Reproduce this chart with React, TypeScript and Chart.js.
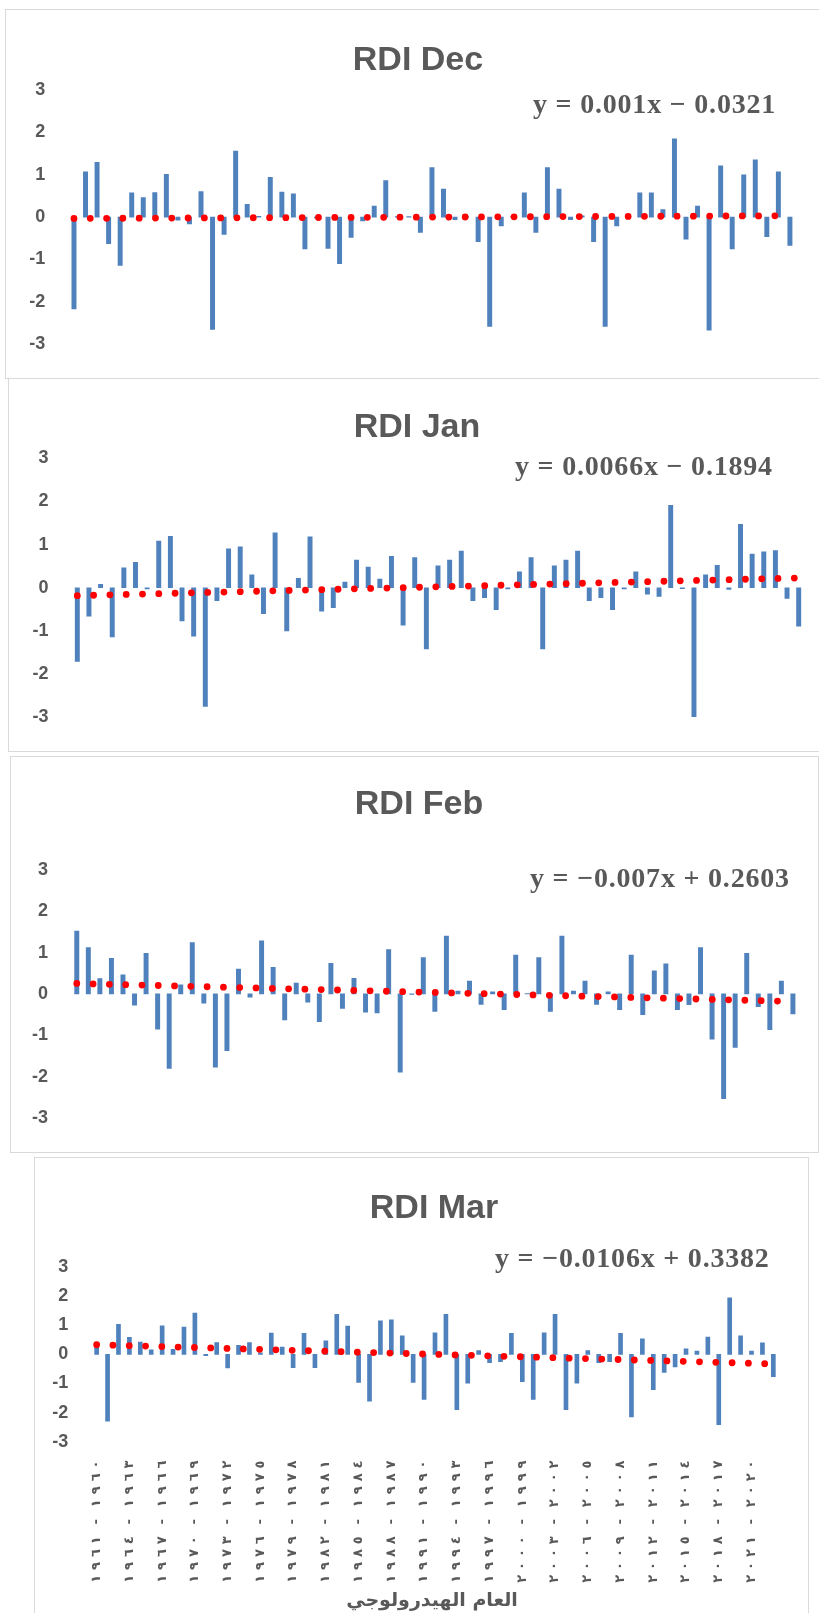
import React, { useEffect, useRef } from 'react';
import { Chart, registerables } from 'chart.js';
Chart.register(...registerables);

// ---------- data ----------
const firstYear = 1960;
const seasonCount = 63;
const arabicDigits = '٠١٢٣٤٥٦٧٨٩';
const toArabic = (n: number) => String(n).replace(/\d/g, (d) => arabicDigits[+d]);
const seasonLabels: string[] = Array.from({ length: seasonCount }, (_, i) =>
  `${toArabic(firstYear + i)} - ${toArabic(firstYear + i + 1)}`
);
const labelEvery = 3;

const rdiDec = [-2.17, 1.07, 1.29, -0.63, -1.14, 0.57, 0.46, 0.58, 1.01, -0.07, -0.16, 0.60, -2.65, -0.41, 1.56, 0.30, 0.02, 0.94, 0.59, 0.55, -0.75, -0.02, -0.74, -1.10, -0.48, -0.09, 0.26, 0.86, 0.01, 0.01, -0.36, 1.17, 0.66, -0.06, 0.01, -0.58, -2.58, -0.21, 0.01, 0.57, -0.36, 1.17, 0.66, -0.06, 0.03, -0.58, -2.58, -0.21, 0.01, 0.57, 0.57, 0.18, 1.85, -0.52, 0.26, -2.67, 1.21, -0.75, 1.00, 1.35, -0.46, 1.07, -0.67];
const rdiJan = [-1.71, -0.66, 0.08, -1.14, 0.46, 0.59, -0.03, 1.08, 1.19, -0.77, -1.12, -2.75, -0.30, 0.90, 0.95, 0.30, -0.60, 1.27, -1.00, 0.22, 1.18, -0.54, -0.46, 0.13, 0.64, 0.48, 0.20, 0.73, -0.87, 0.70, -1.42, 0.51, 0.64, 0.85, -0.30, -0.23, -0.51, -0.03, 0.37, 0.70, -1.42, 0.51, 0.64, 0.85, -0.30, -0.23, -0.51, -0.03, 0.37, -0.15, -0.20, 1.91, -0.02, -2.99, 0.30, 0.52, -0.04, 1.47, 0.78, 0.83, 0.86, -0.25, -0.89];
const rdiFeb = [1.52, 1.12, 0.37, 0.86, 0.46, -0.27, 0.98, -0.85, -1.80, 0.22, 1.24, -0.22, -1.77, -1.37, 0.60, -0.08, 1.28, 0.64, -0.63, 0.26, -0.20, -0.67, 0.74, -0.35, 0.38, -0.44, -0.46, 1.07, -1.89, -0.01, 0.88, -0.42, 1.40, 0.07, 0.31, -0.25, 0.05, -0.38, 0.94, 0.01, 0.88, -0.42, 1.40, 0.07, 0.31, -0.25, 0.05, -0.38, 0.94, -0.50, 0.56, 0.73, -0.38, -0.26, 1.12, -1.09, -2.53, -1.29, 0.98, -0.31, -0.86, 0.31, -0.48];
const rdiMar = [0.30, -2.29, 1.03, 0.58, 0.42, 0.15, 0.98, 0.17, 0.93, 1.41, -0.05, 0.40, -0.47, 0.31, 0.40, 0.05, 0.73, 0.25, -0.46, 0.72, -0.46, 0.46, 1.37, 0.97, -0.96, -1.61, 1.15, 1.18, 0.63, -0.96, -1.55, 0.74, 1.37, -1.90, -0.99, 0.13, -0.29, -0.25, 0.72, -0.94, -1.55, 0.74, 1.37, -1.90, -0.99, 0.13, -0.29, -0.25, 0.72, -2.15, 0.53, -1.21, -0.62, -0.43, 0.19, 0.11, 0.59, -2.41, 1.94, 0.63, 0.11, 0.39, -0.77];

// trendline end values (first and last season)
const trendStart = [-0.031, -0.183, 0.253, 0.328];
const trendEnd = [0.031, 0.227, -0.181, -0.330];

const panelTitles = ['RDI Dec', 'RDI Jan', 'RDI Feb', 'RDI Mar'];
const equations = ['y = 0.001x − 0.0321', 'y = 0.0066x − 0.1894', 'y = −0.007x + 0.2603', 'y = −0.0106x + 0.3382'];
const xAxisTitle = 'العام الهيدرولوجي';
const yTicksMin = -3;
const yTicksMax = 3;

const series = [rdiDec, rdiJan, rdiFeb, rdiMar];

// ---------- layout (page coordinates) ----------
type Box = { left: number; top: number; width: number; height: number };
type Area = { left: number; right: number; top: number; bottom: number };
interface PanelCfg {
  box: Box;
  canvas: Box;
  area: Area;
  titlePos: [number, number];
  eqPos: [number, number];
  barThickness: number;
  showX: boolean;
}

const panels: PanelCfg[] = [
  { box: { left: 5, top: 9, width: 830, height: 370 }, canvas: { left: 5, top: 9, width: 814, height: 369 }, area: { left: 68.2, right: 795.7, top: 90, bottom: 362.7 }, titlePos: [418, 61], eqPos: [533, 106], barThickness: 4.3, showX: false },
  { box: { left: 8, top: 378, width: 830, height: 374 }, canvas: { left: 8, top: 378, width: 811, height: 373 }, area: { left: 71.5, right: 804.5, top: 458.3, bottom: 735 }, titlePos: [417, 428], eqPos: [515, 468], barThickness: 4.3, showX: false },
  { box: { left: 10, top: 756, width: 809, height: 397 }, canvas: { left: 10, top: 756, width: 808, height: 396 }, area: { left: 71.0, right: 798.7, top: 869.7, bottom: 1126.3 }, titlePos: [419, 805], eqPos: [530, 880], barThickness: 4.3, showX: false },
  { box: { left: 34, top: 1157, width: 775, height: 470 }, canvas: { left: 34, top: 1157, width: 774, height: 456 }, area: { left: 91.2, right: 778.8, top: 1266.8, bottom: 1441.8 }, titlePos: [434, 1209], eqPos: [495, 1260], barThickness: 4, showX: true },
];
const xLabelFirstCenterPage = 1464.5;
const xLabelDigitStep = 12.9;
const xLabelDashStep = 18.5;
const xTitlePos: [number, number] = [432, 1601];

const GRAY = '#595959';
const BLUE = '#4F81BD';
const RED = '#FF0000';

type TextItem = { text: string; x: number; y: number; font: string; align: CanvasTextAlign; spacing?: string };

// visual (left-to-right) order of an RTL-displayed season label: "end - start"
function visualChars(label: string): string[] {
  const parts = label.split(' - ');
  return [...parts[1], '-', ...parts[0]];
}

function makeTextPlugin(items: TextItem[], xLabelTop: number | null) {
  return {
    id: 'panelTexts',
    afterDraw(chart: any) {
      const ctx = chart.ctx as any;
      for (const t of items) {
        ctx.save();
        ctx.font = t.font;
        ctx.fillStyle = GRAY;
        ctx.textAlign = t.align;
        ctx.textBaseline = 'middle';
        if (t.spacing) ctx.letterSpacing = t.spacing;
        ctx.fillText(t.text, t.x, t.y);
        ctx.restore();
      }
      if (xLabelTop !== null) {
        const xs = chart.scales.x;
        ctx.save();
        ctx.font = 'bold 13px "DejaVu Sans", sans-serif';
        ctx.fillStyle = GRAY;
        ctx.textAlign = 'center';
        ctx.textBaseline = 'middle';
        seasonLabels.forEach((lab, i) => {
          if (i % labelEvery !== 0) return;
          const px = xs.getPixelForValue(i);
          const chars = visualChars(lab).reverse(); // from top to bottom
          ctx.save();
          ctx.translate(px, xLabelTop);
          ctx.rotate(-Math.PI / 2);
          let d = 0;
          chars.forEach((ch, k) => {
            if (k > 0) {
              const prevDash = chars[k - 1] === '-';
              d += ch === '-' || prevDash ? xLabelDashStep : xLabelDigitStep;
            }
            ctx.fillText(ch, -d, 0);
          });
          ctx.restore();
        });
        ctx.restore();
      }
    },
  };
}

function Panel({ idx }: { idx: number }) {
  const ref = useRef<HTMLCanvasElement>(null);
  const cfg = panels[idx];
  useEffect(() => {
    const c = cfg.canvas;
    const a = cfg.area;
    const values = series[idx];
    const trend = values.map((_, i) => (i === 0 ? trendStart[idx] : i === values.length - 1 ? trendEnd[idx] : null));
    const items: TextItem[] = [
      { text: panelTitles[idx], x: cfg.titlePos[0] - c.left, y: cfg.titlePos[1] - c.top, font: 'bold 34px "Liberation Sans", Arial, sans-serif', align: 'center' },
      { text: equations[idx], x: cfg.eqPos[0] - c.left, y: cfg.eqPos[1] - c.top, font: 'bold 28px "Liberation Serif", "Times New Roman", serif', align: 'left', spacing: '0.8px' },
    ];
    if (cfg.showX) {
      items.push({ text: xAxisTitle, x: xTitlePos[0] - c.left, y: xTitlePos[1] - c.top, font: 'bold 19px "DejaVu Sans", sans-serif', align: 'center' });
    }
    const chart = new Chart(ref.current as HTMLCanvasElement, {
      type: 'bar',
      data: {
        labels: seasonLabels,
        datasets: [
          {
            type: 'line',
            label: 'trend',
            data: trend as any,
            borderColor: RED,
            borderWidth: 6.8,
            borderDash: [0, 16.3],
            borderCapStyle: 'round',
            pointRadius: 0,
            spanGaps: true,
            fill: false,
            order: 0,
          } as any,
          {
            type: 'bar',
            label: panelTitles[idx],
            data: values,
            backgroundColor: BLUE,
            borderWidth: 0,
            barThickness: cfg.barThickness,
            order: 1,
          } as any,
        ],
      },
      options: {
        responsive: false,
        animation: false,
        devicePixelRatio: 1,
        layout: {
          padding: {
            left: 0,
            top: a.top - c.top,
            right: c.left + c.width - a.right,
            bottom: c.top + c.height - a.bottom,
          },
        },
        plugins: { legend: { display: false }, tooltip: { enabled: false }, title: { display: false } },
        scales: {
          x: {
            display: false,
            offset: true,
            grid: { display: false, drawTicks: false },
            border: { display: false },
          },
          y: {
            min: yTicksMin,
            max: yTicksMax,
            grid: { display: false, drawTicks: false },
            border: { display: false },
            afterFit: (scale: any) => {
              scale.width = a.left - c.left;
            },
            ticks: {
              stepSize: 1,
              padding: 23,
              color: GRAY,
              font: { family: '"Liberation Sans", Arial, sans-serif', size: 18, weight: 'bold' },
            },
          },
        },
      } as any,
      plugins: [makeTextPlugin(items, cfg.showX ? xLabelFirstCenterPage - c.top : null)],
    });
    return () => chart.destroy();
  }, []);
  const b = cfg.box;
  const c = cfg.canvas;
  return (
    <>
      <div
        style={{
          position: 'absolute',
          left: b.left,
          top: b.top,
          width: b.width,
          height: b.height,
          border: '1.5px solid #d9d9d9',
          boxSizing: 'border-box',
          background: '#ffffff',
        }}
      />
      <canvas
        ref={ref}
        width={c.width}
        height={c.height}
        style={{ position: 'absolute', left: c.left, top: c.top, width: c.width, height: c.height, display: 'block' }}
      />
    </>
  );
}

export default function App() {
  return (
    <div
      style={{
        position: 'absolute',
        left: 0,
        top: 0,
        width: 819,
        height: 1613,
        overflow: 'hidden',
        background: '#ffffff',
      }}
    >
      {panels.map((_, i) => (
        <Panel key={i} idx={i} />
      ))}
    </div>
  );
}
